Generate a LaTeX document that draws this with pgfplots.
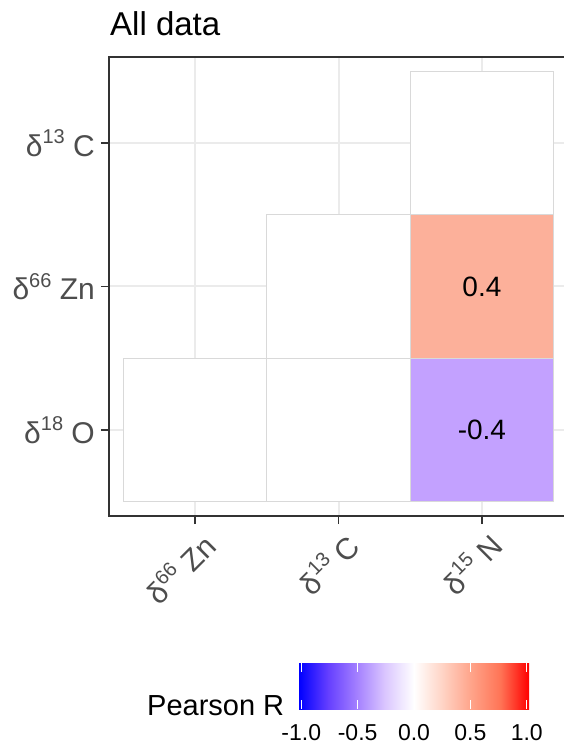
\documentclass[border=0pt]{standalone}
\usepackage{fontspec}
\setmainfont{Liberation Sans}
\usepackage{pgfplots}
\pgfplotsset{compat=1.18}
\definecolor{tickgray}{RGB}{77,77,77}
\definecolor{gridgray}{RGB}{235,235,235}
\definecolor{tileborder}{RGB}{217,217,217}
\definecolor{posfill}{RGB}{252,176,154}
\definecolor{negfill}{RGB}{195,161,255}
\definecolor{framecol}{RGB}{51,51,51}
\pgfdeclarehorizontalshading{prshade}{100bp}{
  rgb(0bp)=(0,0,1); rgb(25bp)=(0,0,1);
  rgb(31.25bp)=(0.392,0.243,1);
  rgb(37.5bp)=(0.639,0.498,1);
  rgb(43.75bp)=(0.859,0.780,1);
  rgb(50bp)=(1,1,1);
  rgb(56.25bp)=(1,0.827,0.769);
  rgb(62.5bp)=(1,0.639,0.537);
  rgb(68.75bp)=(1,0.455,0.337);
  rgb(75bp)=(1,0,0); rgb(100bp)=(1,0,0)}
\newcommand{\iso}[2]{δ\raisebox{0.42em}{\fontsize{20}{20}\selectfont #1} #2}
\begin{document}
\begin{tikzpicture}[x=1pt,y=1pt]
\useasboundingbox (0,0) rectangle (564,747);
\node[anchor=base west, font=\fontsize{33}{33}\selectfont, inner sep=0pt] at (110,711) {All data};
\begin{axis}[
  at={(109pt,231pt)}, anchor=south west, scale only axis,
  width=459pt, height=459pt,
  xmin=0.4, xmax=3.6, ymin=0.4, ymax=3.6,
  xtick={1,2,3}, ytick={1,2,3},
  xticklabels={\iso{66}{Zn},\iso{13}{C},\iso{15}{N}},
  yticklabels={\iso{18}{O},\iso{66}{Zn},\iso{13}{C}},
  xtick pos=left, ytick pos=left,
  grid=major, major grid style={gridgray, line width=2pt},
  axis line style={framecol, line width=1.5pt},
  tick style={framecol, line width=1.6pt},
  tick align=outside, major tick length=8pt,
  yticklabel style={font=\fontsize{30}{30}\selectfont, text=tickgray, inner sep=0pt, xshift=-6pt},
  xticklabel style={font=\fontsize{30}{30}\selectfont, text=tickgray, rotate=45, anchor=north east, inner sep=0pt, xshift=-1pt, yshift=-7pt},
]
\addplot[fill=white, draw=tileborder, line width=1pt] coordinates {(2.5,2.5) (3.5,2.5) (3.5,3.5) (2.5,3.5)} --cycle;
\addplot[fill=white, draw=tileborder, line width=1pt] coordinates {(1.5,1.5) (2.5,1.5) (2.5,2.5) (1.5,2.5)} --cycle;
\addplot[fill=posfill, draw=tileborder, line width=1pt] coordinates {(2.5,1.5) (3.5,1.5) (3.5,2.5) (2.5,2.5)} --cycle;
\addplot[fill=white, draw=tileborder, line width=1pt] coordinates {(0.5,0.5) (1.5,0.5) (1.5,1.5) (0.5,1.5)} --cycle;
\addplot[fill=white, draw=tileborder, line width=1pt] coordinates {(1.5,0.5) (2.5,0.5) (2.5,1.5) (1.5,1.5)} --cycle;
\addplot[fill=negfill, draw=tileborder, line width=1pt] coordinates {(2.5,0.5) (3.5,0.5) (3.5,1.5) (2.5,1.5)} --cycle;
\addplot[draw=none, mark=none, nodes near coords, point meta=explicit symbolic,
  nodes near coords style={anchor=center, font=\fontsize{28}{28}\selectfont, text=black}]
  coordinates {(3,2) [0.4] (3,1) [-0.4]};
\end{axis}
\node[anchor=base west, font=\fontsize{29}{29}\selectfont, inner sep=0pt] at (147,31) {Pearson R};
\begin{axis}[
  at={(299pt,38pt)}, anchor=south west, scale only axis,
  width=230pt, height=46pt,
  xmin=-1.02, xmax=1.02, ymin=0, ymax=1,
  axis line style={draw=none},
  ytick=\empty,
  xtick={-1,-0.5,0,0.5,1},
  xticklabels={-1.0,-0.5,0.0,0.5,1.0},
  xtick pos=both,
  xtick style={white, line width=1pt},
  tick align=inside, major tick length=9pt,
  xticklabel style={font=\fontsize{23}{23}\selectfont, text=black, anchor=base, inner sep=0pt, yshift=-31pt},
  axis on top,
]
\addplot[shading=prshade, draw=none] coordinates {(-1.02,0) (1.02,0) (1.02,1) (-1.02,1)} --cycle;
\end{axis}
\end{tikzpicture}
\end{document}
